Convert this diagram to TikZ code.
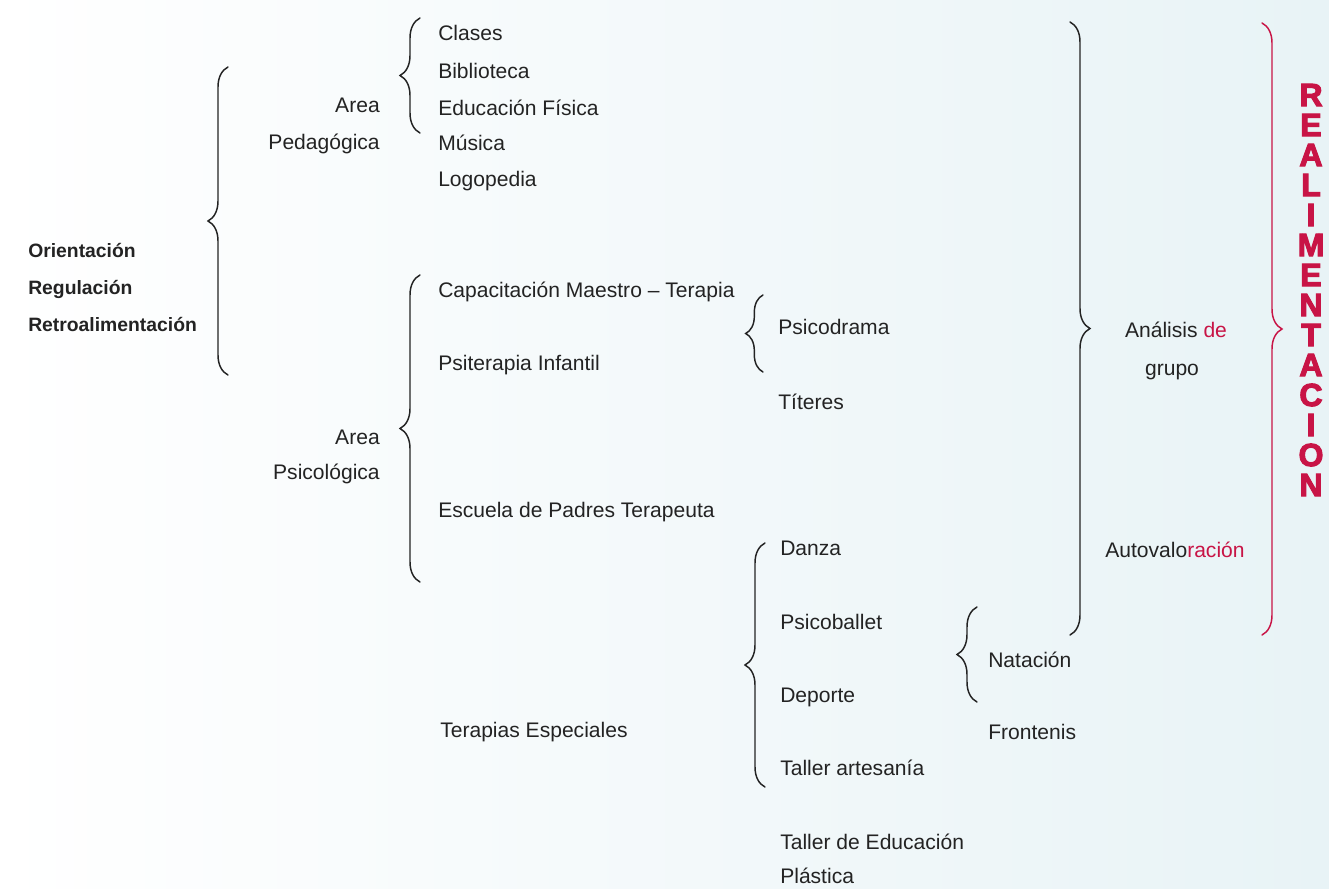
\documentclass[tikz,border=0pt]{standalone}
\usepackage{fontspec}
\setmainfont{Liberation Sans}
\newfontfamily\negrita[FakeBold=3.5]{Liberation Sans Bold}
\usetikzlibrary{decorations.pathreplacing}
\definecolor{rojo}{RGB}{200,20,70}
\definecolor{tinta}{RGB}{35,35,35}
\definecolor{fondo}{RGB}{232,243,246}

\begin{document}
\begin{tikzpicture}[x=0.75pt,y=-0.75pt,line cap=round]
	\tikzstyle{txt}=[inner sep=0pt,text height=11pt,text depth=0pt,text=tinta,font=\fontsize{15.8}{18}\selectfont];
	\tikzstyle{izq}=[txt,anchor=west];
	\tikzstyle{der}=[txt,anchor=east];
	\tikzstyle{gorda}=[izq,font=\fontsize{14.5}{18}\selectfont\bfseries];
	\tikzstyle{llave}=[decorate,decoration={brace,amplitude=15pt},draw=tinta,line width=1.1pt];
	\tikzstyle{letra}=[inner sep=0pt,text=rojo,font=\fontsize{24}{24}\negrita];

	\useasboundingbox (0,0) rectangle (1329,889);
	\shade[left color=white,right color=fondo] (0,0) rectangle (1329,889);

	% columna izquierda
	\node[gorda] (ori) at (28,250) {Orientación};
	\node[gorda] (reg) at (28,287) {Regulación};
	\node[gorda] (ret) at (28,324) {Retroalimentación};
	\draw[llave] (228,375) -- (228,67);

	% areas
	\node[der] (area1) at (380,105) {Area};
	\node[der] (ped) at (380,142) {Pedagógica};
	\node[der] (area2) at (380,437) {Area};
	\node[der] (psi) at (380,472) {Psicológica};
	\draw[llave] (420,133) -- (420,18);
	\draw[llave] (420,582) -- (420,275);

	\node[izq] (clases) at (438,33) {Clases};
	\node[izq] (biblio) at (438,71) {Biblioteca};
	\node[izq] (edfis) at (438,108) {Educación Física};
	\node[izq] (musica) at (438,143) {Música};
	\node[izq] (logo) at (438,179) {Logopedia};

	\node[izq] (capac) at (438,290) {Capacitación Maestro -- Terapia};
	\node[izq] (psiter) at (438,363) {Psiterapia Infantil};
	\node[izq] (escuela) at (438,510) {Escuela de Padres Terapeuta};
	\node[izq] (tesp) at (440,730) {Terapias Especiales};

	% terapias
	\draw[llave,decoration={brace,amplitude=13pt}] (763,372) -- (763,295);
	\node[izq] (psicod) at (778,327) {Psicodrama};
	\node[izq] (titeres) at (778,402) {Títeres};

	\draw[llave] (765,787) -- (765,543);
	\node[izq] (danza) at (780,548) {Danza};
	\node[izq] (pballet) at (780,622) {Psicoballet};
	\node[izq] (deporte) at (780,695) {Deporte};
	\node[izq] (tart) at (780,768) {Taller artesanía};
	\node[izq] (tedu) at (780,842) {Taller de Educación};
	\node[izq] (plast) at (780,876) {Plástica};

	\draw[llave] (977,702) -- (977,607);
	\node[izq] (natac) at (988,660) {Natación};
	\node[izq] (fronte) at (988,732) {Frontenis};

	% derecha
	\draw[llave] (1070,22) -- (1070,635);
	\node[txt] (anal) at (1176,330) {Análisis \textcolor{rojo}{de}};
	\node[txt] (grupo) at (1172,368) {grupo};
	\node[izq] (autov) at (1105,550) {Autovalo\textcolor{rojo}{ración}};

	\draw[llave,draw=rojo] (1262,23) -- (1262,635);
	\foreach \l [count=\i] in {R,E,A,L,I,M,E,N,T,A,C,I,O,N}
		\node[letra] (l\i) at (1311,65+30*\i) {\l};
\end{tikzpicture}
\end{document}
